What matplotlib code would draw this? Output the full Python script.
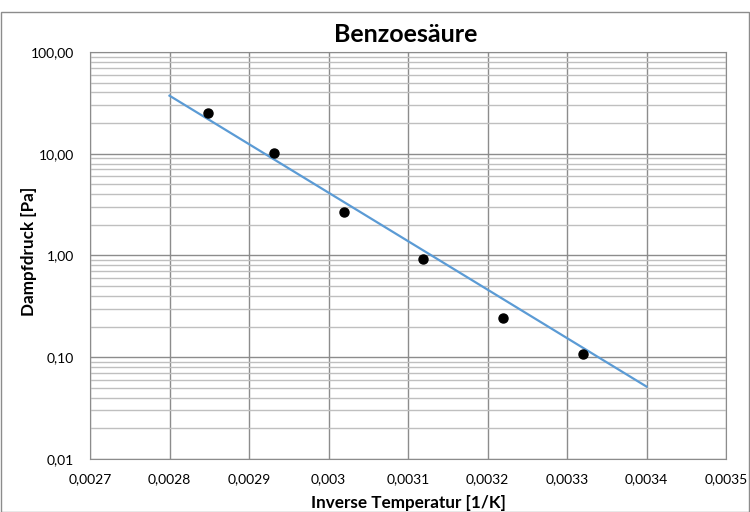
import matplotlib
matplotlib.use("Agg")
import matplotlib.pyplot as plt
from matplotlib.ticker import FixedLocator, FixedFormatter, LogLocator, NullFormatter
from matplotlib.patches import Rectangle

plt.rcParams['font.family'] = ['Lato', 'DejaVu Sans']

# Messwerte: inverse Temperatur und Dampfdruck
inv_temp = [0.002848, 0.002932, 0.003020, 0.003119, 0.003219, 0.003320]
dampfdruck = [25.1, 10.07, 2.69, 0.922, 0.242, 0.107]

# Trendlinie (exponentiell), Endpunkte aus dem Bild
trend_x = [0.0028, 0.0034]
trend_y = [37.2, 0.0515]

x_ticks = [0.0027, 0.0028, 0.0029, 0.003, 0.0031, 0.0032, 0.0033, 0.0034, 0.0035]
x_labels = ["0,0027", "0,0028", "0,0029", "0,003", "0,0031", "0,0032", "0,0033", "0,0034", "0,0035"]
y_ticks = [0.01, 0.1, 1, 10, 100]
y_labels = ["0,01", "0,10", "1,00", "10,00", "100,00"]

fig = plt.figure(figsize=(7.5, 5.12), dpi=100)
ax = fig.add_axes([0.12, 0.1035, 0.848, 0.795])

ax.plot(trend_x, trend_y, color="#5B9BD5", linewidth=1.6, zorder=3)
ax.plot(inv_temp, dampfdruck, "o", color="black", markersize=6.5, zorder=4)

ax.set_yscale("log")
ax.set_xlim(0.0027, 0.0035)
ax.set_ylim(0.01, 100)

ax.xaxis.set_major_locator(FixedLocator(x_ticks))
ax.xaxis.set_major_formatter(FixedFormatter(x_labels))
ax.yaxis.set_major_locator(FixedLocator(y_ticks))
ax.yaxis.set_major_formatter(FixedFormatter(y_labels))
ax.yaxis.set_minor_locator(LogLocator(base=10, subs=range(2, 10)))
ax.yaxis.set_minor_formatter(NullFormatter())

ax.grid(True, which="major", color="#8C8C8C", linewidth=1.0)
ax.grid(True, which="minor", axis="y", color="#BFBFBF", linewidth=1.0)
ax.set_axisbelow(True)
ax.tick_params(which="both", length=0, labelsize=10)
ax.tick_params(axis="x", pad=10.5)
ax.tick_params(axis="y", pad=11.5)
for s in ax.spines.values():
    s.set_color("#8C8C8C")

fig.text(0.541, 0.918, "Benzoesäure", fontsize=18, fontweight="bold",
         ha="center", va="baseline")
fig.text(0.544, 0.008, "Inverse Temperatur [1/K]", fontsize=12.3, fontweight="bold",
         ha="center", va="baseline")
fig.text(0.0387, 0.51, "Dampfdruck [Pa]", fontsize=12.3, fontweight="bold",
         rotation=90, ha="center", va="center")

fig.patches.append(Rectangle((0.001, 0.0), 0.997, 0.976, transform=fig.transFigure,
                             fill=False, edgecolor="#8C8C8C", linewidth=1.0))

fig.savefig("out.png", dpi=100)
